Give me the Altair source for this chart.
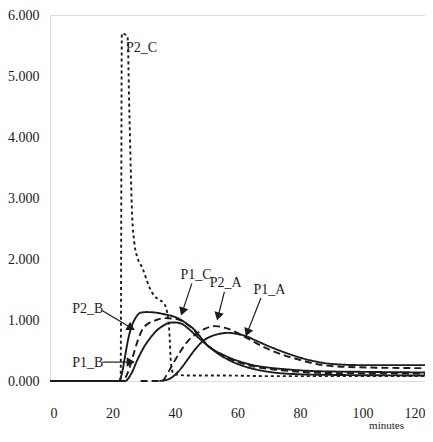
import math
import altair as alt
import pandas as pd

# ---- series data (minutes, value) ----
p1c_t = [0, 22, 23, 24, 25, 26, 27, 28, 29, 31, 34, 37, 40, 42, 44, 46, 48, 50, 52, 55, 58, 62, 66, 70, 76, 86, 100, 120]
p1c_v = [0, 0, 0.12, 0.4, 0.68, 0.88, 1.0, 1.08, 1.12, 1.13, 1.12, 1.09, 1.05, 1.0, 0.93, 0.85, 0.73, 0.6, 0.52, 0.44, 0.37, 0.3, 0.25, 0.22, 0.19, 0.16, 0.15, 0.14]

p2b_t = [0, 23, 25, 26.5, 28, 29.5, 31.7, 34, 36.5, 40, 43, 46, 48.6, 52, 56, 60, 65, 70, 80, 90, 120]
p2b_v = [0, 0, 0.15, 0.4, 0.65, 0.84, 0.95, 1.0, 1.03, 1.02, 0.96, 0.84, 0.68, 0.52, 0.4, 0.31, 0.24, 0.2, 0.15, 0.13, 0.12]

p1b_t = [0, 24, 26, 28, 30, 32, 34, 36, 38, 40, 42, 44, 46, 48.6, 51, 54, 57, 60, 65, 70, 80, 90, 120]
p1b_v = [0, 0, 0.12, 0.35, 0.55, 0.7, 0.82, 0.9, 0.95, 0.96, 0.94, 0.87, 0.78, 0.66, 0.56, 0.44, 0.35, 0.28, 0.2, 0.15, 0.11, 0.1, 0.09]

p2a_t = [29, 36, 37, 39, 41.3, 43, 44.4, 47, 49.7, 53, 56, 60, 62.5, 66, 70, 75, 79, 86, 95, 120]
p2a_v = [0, 0, 0.07, 0.25, 0.45, 0.58, 0.67, 0.78, 0.86, 0.9, 0.87, 0.79, 0.72, 0.62, 0.52, 0.42, 0.36, 0.27, 0.23, 0.21]

p1a_t = [35, 38, 40, 42.3, 44, 46, 48.6, 51, 54, 57, 60, 62.5, 66, 70, 75, 79, 85, 90, 100, 120]
p1a_v = [0, 0.03, 0.1, 0.23, 0.35, 0.49, 0.64, 0.72, 0.77, 0.79, 0.77, 0.74, 0.66, 0.57, 0.47, 0.4, 0.32, 0.28, 0.26, 0.26]

p2c_t = [0, 22.6, 23, 24.8, 25.4, 26.3, 27, 28, 29.6, 31.7, 33.3, 35, 36.5, 37.5, 38.2, 38.7, 39.5, 41, 45, 55, 70, 90, 120]
p2c_v = [0, 0, 5.7, 5.65, 4.4, 2.7, 2.26, 2.02, 1.85, 1.55, 1.4, 1.33, 1.27, 1.12, 0.8, 0.3, 0.12, 0.1, 0.09, 0.09, 0.08, 0.08, 0.08]

series_names = ["P1_C", "P2_B", "P1_B", "P2_A", "P1_A", "P2_C"]
series_t = [p1c_t, p2b_t, p1b_t, p2a_t, p1a_t, p2c_t]
series_v = [p1c_v, p2b_v, p1b_v, p2a_v, p1a_v, p2c_v]

# ---- annotations (label centre, arrow start, arrow tip) in data units ----
ann_labels = ["P2_C", "P2_B", "P1_B", "P1_C", "P2_A", "P1_A"]
ann_text_t = [29.3, 12.1, 12.1, 46.7, 56.2, 70.2]
ann_text_v = [5.46, 1.18, 0.30, 1.74, 1.61, 1.49]
arrow_from_t = [None, 16.8, 16.8, 45.4, 55.8, 67.5]
arrow_from_v = [None, 1.15, 0.31, 1.60, 1.46, 1.36]
arrow_tip_t = [None, 27.0, 27.0, 42.0, 53.5, 62.7]
arrow_tip_v = [None, 0.84, 0.31, 1.08, 1.00, 0.74]

x_ticks = [0, 20, 40, 60, 80, 100, 120]
y_ticks = [0, 1, 2, 3, 4, 5, 6]

W, H = 375, 366
PX_T = W / 120.0
PX_V = H / 6.0
INK = "#1c1c1c"
FONT = "Liberation Serif, Times New Roman, DejaVu Serif, serif"

rows = []
for name, ts, vs in zip(series_names, series_t, series_v):
    for t, v in zip(ts, vs):
        rows.append({"series": name, "t": t, "v": v})
df = pd.DataFrame(rows)

# arrow geometry
arrows = []
for lab, ft, fv, tt, tv in zip(ann_labels, arrow_from_t, arrow_from_v, arrow_tip_t, arrow_tip_v):
    if ft is None:
        continue
    dx = (tt - ft) * PX_T
    dy = -(tv - fv) * PX_V
    L = math.hypot(dx, dy)
    ux, uy = dx / L, dy / L
    back = 5.0
    ht = tt - ux * back / PX_T
    hv = tv + uy * back / PX_V
    ang = math.degrees(math.atan2(dx, -dy)) % 360
    arrows.append({"label": lab, "t0": ft, "v0": fv, "t1": ht, "v1": hv, "angle": ang})
adf = pd.DataFrame(arrows)
tdf = pd.DataFrame({"label": ann_labels, "t": ann_text_t, "v": ann_text_v})

xs = alt.Scale(domain=[0, 120], nice=False, zero=False)
ys = alt.Scale(domain=[0, 6], nice=False)

lines = alt.Chart(df).mark_line(interpolate="monotone", strokeWidth=1.9, color=INK).encode(
    x=alt.X("t:Q", scale=xs, axis=alt.Axis(
        values=x_ticks, format="d", domain=False, ticks=False, grid=False,
        labelPadding=25, labelFont=FONT, labelFontSize=14, labelColor=INK, labelFlush=True,
        title="minutes", titleFont=FONT, titleFontSize=11, titleFontWeight="normal",
        titleColor=INK, titleX=336, titleY=44, titleBaseline="middle", titleAlign="center")),
    y=alt.Y("v:Q", scale=ys, axis=alt.Axis(
        values=y_ticks, format=".3f", domain=False, ticks=False, grid=False,
        labelPadding=11, labelFont=FONT, labelFontSize=14, labelColor=INK, title=None)),
    detail="series:N",
    strokeDash=alt.StrokeDash("series:N", legend=None, scale=alt.Scale(
        domain=series_names,
        range=[[1, 0], [7, 4], [1, 0], [7, 4], [1, 0], [3, 3]])),
)

rules = alt.Chart(adf).mark_rule(color=INK, strokeWidth=1.2).encode(
    x=alt.X("t0:Q", scale=xs), y=alt.Y("v0:Q", scale=ys),
    x2="t1:Q", y2="v1:Q")

heads = alt.Chart(adf).mark_point(shape="triangle", filled=True, size=90, color=INK, opacity=1).encode(
    x=alt.X("t1:Q", scale=xs), y=alt.Y("v1:Q", scale=ys),
    angle=alt.Angle("angle:Q", scale=None))

texts = alt.Chart(tdf).mark_text(font=FONT, fontSize=14, color=INK, align="center", baseline="middle").encode(
    x=alt.X("t:Q", scale=xs), y=alt.Y("v:Q", scale=ys), text="label:N")

chart = alt.layer(lines, rules, heads, texts).properties(
    width=W, height=H,
    autosize=alt.AutoSizeParams(type="none"),
    padding={"left": 42, "top": 7, "right": 0, "bottom": 52},
).configure_view(stroke=None).configure(background="white")

chart.save("out.html", embed_options={"renderer": "svg", "actions": False})
